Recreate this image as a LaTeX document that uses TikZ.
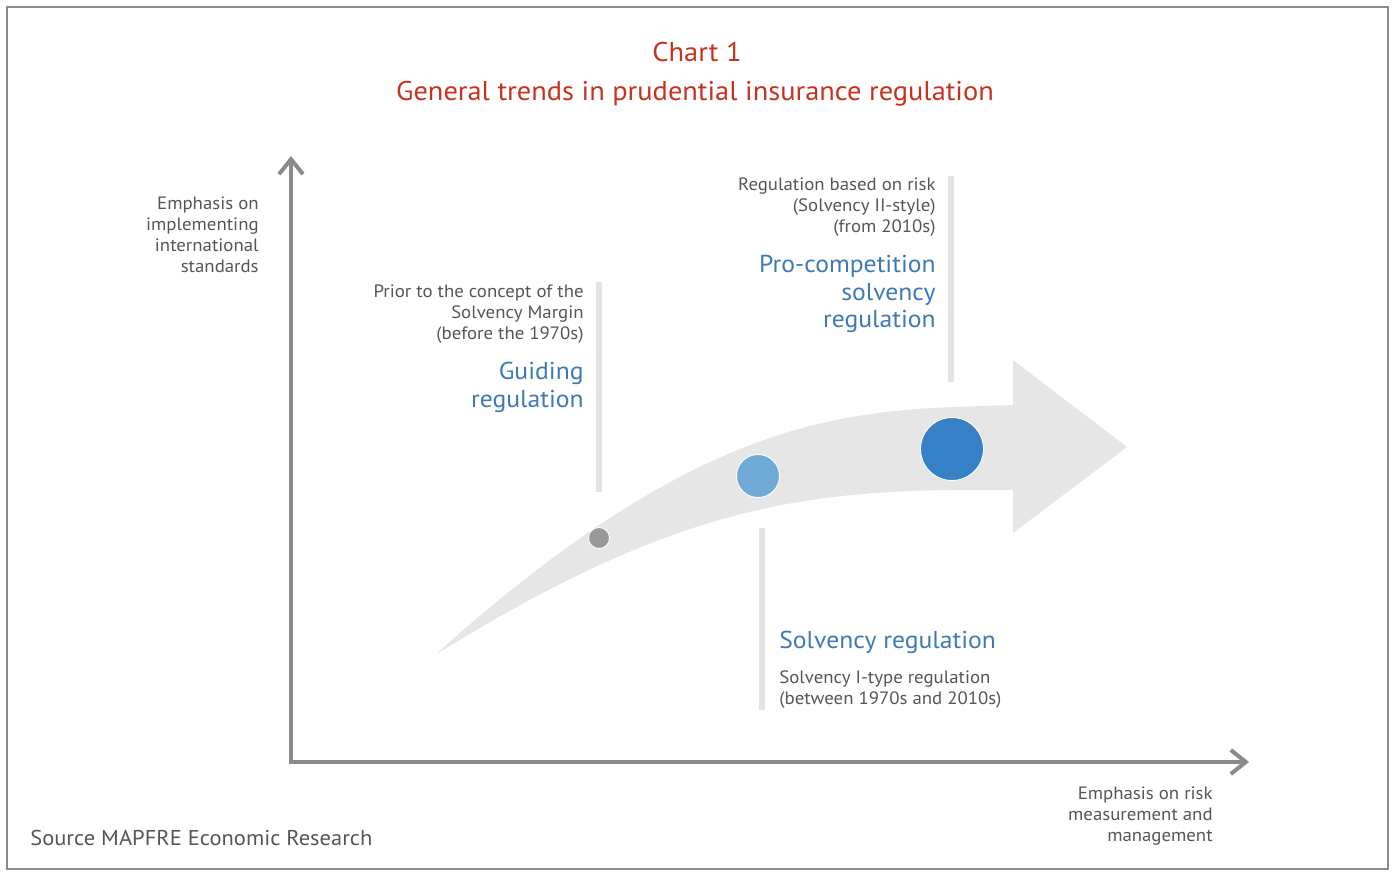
\documentclass[tikz,border=0pt]{standalone}
\usepackage{fontspec}
\setmainfont{PT Sans}[FakeStretch=1.05]
\usetikzlibrary{arrows.meta}

\definecolor{framegray}{HTML}{8C8C8C}
\definecolor{axisgray}{HTML}{8A8A8A}
\definecolor{textgray}{HTML}{555555}
\definecolor{barlight}{HTML}{E3E3E3}
\definecolor{arrowfill}{HTML}{E6E6E6}
\definecolor{titlered}{HTML}{C9311F}
\definecolor{headblue}{HTML}{3D7AB5}
\definecolor{dotgray}{HTML}{999999}
\definecolor{dotlight}{HTML}{6FABD6}
\definecolor{dotdark}{HTML}{3580C6}

\tikzset{
  smalltext/.style={inner sep=0pt, text=textgray, font=\fontsize{10.2}{12.1}\selectfont},
  headtext/.style={inner sep=0pt, text=headblue, font=\fontsize{13.9}{15.6}\selectfont},
  axisline/.style={axisgray, line width=0.08cm, {Straight Barb[length=0.3cm,width=0.48cm]}-{Straight Barb[length=0.3cm,width=0.48cm]}},
  markbar/.style={barlight, line width=0.12cm},
  stagedot/.style={circle, inner sep=0pt, draw=white, line width=0.5pt}
}

\begin{document}
\begin{tikzpicture}[x=0.02cm,y=-0.02cm]
  \useasboundingbox (0,0) rectangle (1395,877);
  \draw[framegray, line width=0.04cm] (7,7) rectangle (1388,869);

  % title
  \node[text=titlered, font=\fontsize{15.4}{16}\selectfont] (charttitle) at (697,52) {Chart 1};
  \node[text=titlered, font=\fontsize{15.4}{16}\selectfont] (chartsub) at (695,94) {General trends in prudential insurance regulation};

  % axes
  \coordinate (origin) at (291,762);
  \coordinate (ytop) at (291,156);
  \coordinate (xend) at (1249,762);
  \draw[axisline] (ytop) |- (xend);

  \node[smalltext, align=right, anchor=north east] (ylabel) at (259,196)
    {Emphasis on\\implementing\\international\\standards};
  \node[smalltext, align=right, anchor=north east] (xlabel) at (1213,786)
    {Emphasis on risk\\measurement and\\management};

  % trend arrow
  \fill[arrowfill] (435,655) .. controls (715,403) and (860,410) .. (1013,405)
    -- (1013,360) -- (1127,447) -- (1013,533) -- (1013,490)
    .. controls (813,488) and (685,500) .. (435,655) -- cycle;

  % marker bars
  \draw[markbar] (599,282) -- (599,492);
  \draw[markbar] (951,176) -- (951,382);
  \draw[markbar] (762,528) -- (762,710);

  % stages
  \node[stagedot, fill=dotgray, minimum size=0.42cm] (guidedot) at (599,538) {};
  \node[stagedot, fill=dotlight, minimum size=0.86cm] (solvdot) at (758,476) {};
  \node[stagedot, fill=dotdark, minimum size=1.26cm] (prodot) at (952,449) {};

  \node[smalltext, align=right, anchor=north east] (guidenote) at (584,284)
    {Prior to the concept of the\\Solvency Margin\\(before the 1970s)};
  \node[headtext, align=right, anchor=north east] (guidehead) at (584,362)
    {Guiding\\regulation};

  \node[smalltext, align=right, anchor=north east] (pronote) at (936,177)
    {Regulation based on risk\\(Solvency II-style)\\(from 2010s)};
  \node[headtext, align=right, anchor=north east] (prohead) at (936,255)
    {Pro-competition\\solvency\\regulation};

  \node[headtext, align=left, anchor=north west] (solvhead) at (779,631)
    {Solvency regulation};
  \node[smalltext, align=left, anchor=north west] (solvnote) at (779,670)
    {Solvency I-type regulation\\(between 1970s and 2010s)};

  \node[text=textgray, inner sep=0pt, anchor=west, font=\fontsize{12.2}{13}\selectfont] (source) at (30,838)
    {Source MAPFRE Economic Research};
\end{tikzpicture}
\end{document}
